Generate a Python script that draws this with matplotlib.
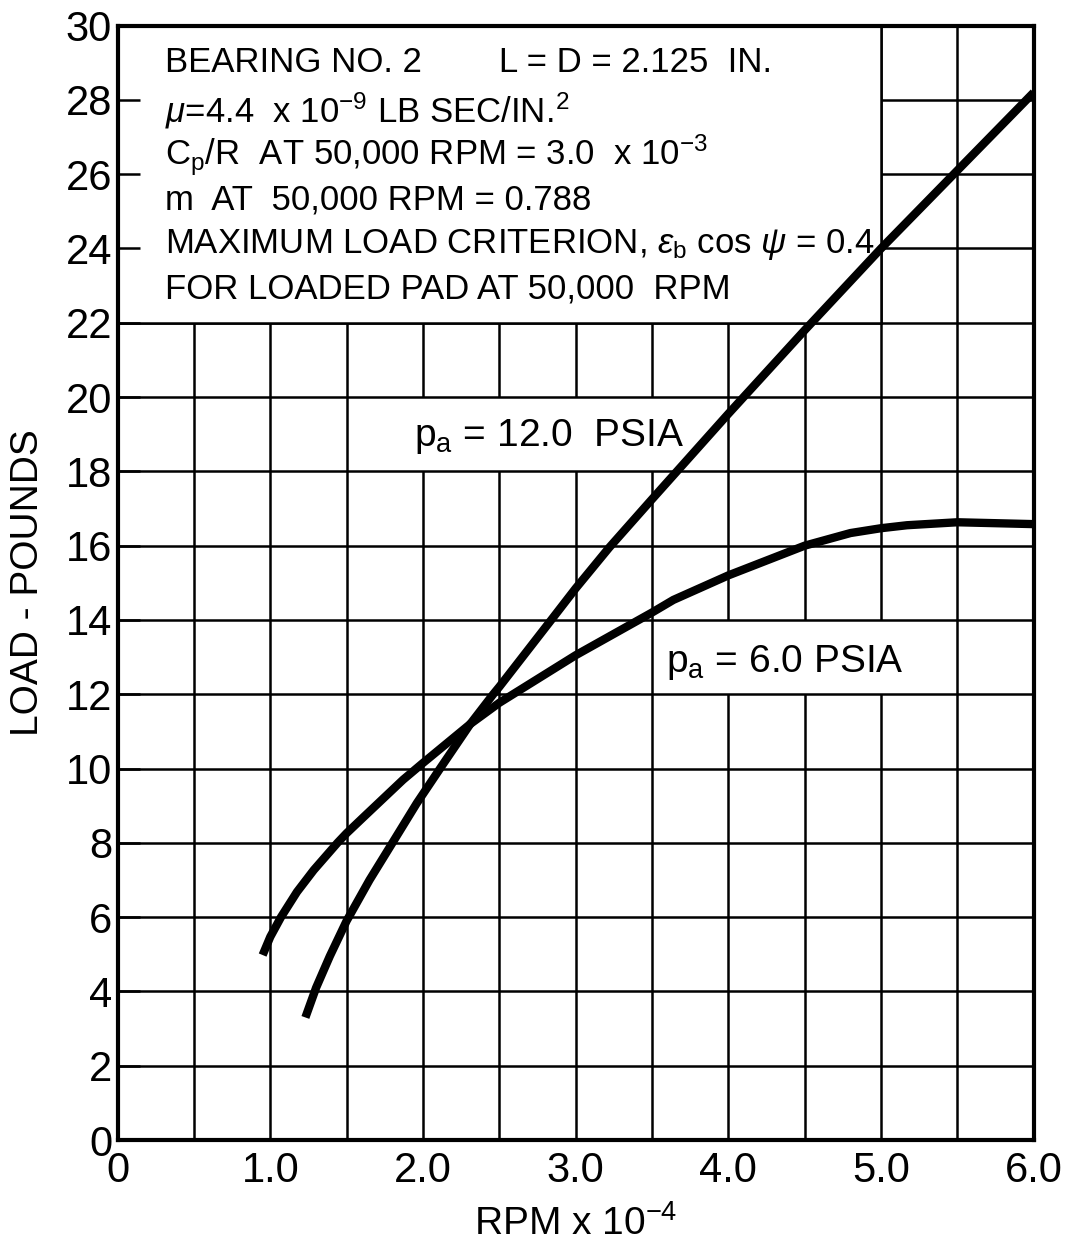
import matplotlib
matplotlib.use("Agg")
import matplotlib.pyplot as plt
from matplotlib.patches import Rectangle

plt.rcParams['font.family'] = ['Liberation Sans', 'DejaVu Sans']
plt.rcParams['mathtext.fontset'] = 'custom'
plt.rcParams['mathtext.rm'] = 'Liberation Sans'
plt.rcParams['mathtext.it'] = 'Liberation Sans:italic'

# curves (RPM x 1e-4, load in pounds)
rpm_12 = [1.23, 1.30, 1.39, 1.50, 1.65, 1.80, 1.96, 2.12, 2.31, 2.46, 2.50, 2.84, 3.00,
          3.22, 3.50, 4.00, 4.50, 5.00, 5.50, 6.00]
load_12 = [3.3, 4.1, 4.95, 5.9, 7.0, 8.0, 9.07, 10.05, 11.2, 12.0, 12.2, 14.0, 14.85,
           15.95, 17.25, 19.55, 21.8, 24.0, 26.1, 28.2]

rpm_6 = [0.95, 1.00, 1.07, 1.175, 1.285, 1.44, 1.50, 1.61, 1.87, 2.00, 2.31, 2.50, 3.00,
         3.50, 3.64, 4.00, 4.50, 4.80, 5.00, 5.17, 5.50, 6.00]
load_6 = [4.98, 5.47, 6.0, 6.68, 7.27, 8.0, 8.26, 8.69, 9.7, 10.15, 11.2, 11.77, 13.05,
          14.2, 14.54, 15.2, 16.0, 16.34, 16.47, 16.55, 16.63, 16.58]

x_ticks = [0, 1, 2, 3, 4, 5, 6]
x_labels = ['0', '1.0', '2.0', '3.0', '4.0', '5.0', '6.0']
y_ticks = list(range(0, 31, 2))

notes = [
    "BEARING NO. 2        L = D = 2.125  IN.",
    r"$\mu$=4.4  x 10$^{-9}$ LB SEC/IN.$^{2}$",
    r"C$_{\rm p}$/R  AT 50,000 RPM = 3.0  x 10$^{-3}$",
    "m  AT  50,000 RPM = 0.788",
    r"MAXIMUM LOAD CRITERION, $\epsilon_{\rm b}$ cos $\psi$ = 0.4",
    "FOR LOADED PAD AT 50,000  RPM",
]
note_y = [29.0, 27.7, 26.5, 25.3, 24.1, 22.9]

fig = plt.figure(figsize=(10.69, 12.48), dpi=100)
ax = fig.add_axes([0.110, 0.0865, 0.857, 0.893])

ax.set_xlim(0, 6)
ax.set_ylim(0, 30)

# grid every 0.5 in x, every 2 in y
for gx in [i * 0.5 for i in range(1, 12)]:
    ax.axvline(gx, color='black', lw=1.8, zorder=0.5)
for gy in y_ticks[1:-1]:
    ax.axhline(gy, color='black', lw=1.8, zorder=0.8)

# white cells behind the curve labels
ax.add_patch(Rectangle((1.52, 18), 2.46, 2, facecolor='white', edgecolor='none', zorder=0.7))
ax.add_patch(Rectangle((3.52, 12), 1.96, 2, facecolor='white', edgecolor='none', zorder=0.7))

# white note box covering the upper left grid
ax.add_patch(Rectangle((0, 22), 5, 8, facecolor='white', edgecolor='none', zorder=1))
ax.plot([0, 5], [22, 22], color='black', lw=1.8, zorder=1.5)
ax.plot([5, 5], [22, 30], color='black', lw=1.8, zorder=1.5)

ax.plot(rpm_12, load_12, color='black', lw=6, solid_capstyle='butt', solid_joinstyle='round', zorder=3)
ax.plot(rpm_6, load_6, color='black', lw=6, solid_capstyle='butt', solid_joinstyle='round', zorder=3)

for txt, yy in zip(notes, note_y):
    ax.text(0.31, yy, txt, fontsize=25, va='center', ha='left', zorder=2)

ax.text(1.94, 18.95, r"p$_{\rm a}$ = 12.0  PSIA", fontsize=28, va='center', ha='left', zorder=2)
ax.text(3.59, 12.85, r"p$_{\rm a}$ = 6.0 PSIA", fontsize=28, va='center', ha='left', zorder=2)

ax.set_xticks(x_ticks)
ax.set_xticklabels(x_labels)
ax.set_yticks(y_ticks)
ax.tick_params(axis='x', length=0, labelsize=30, pad=8)
ax.tick_params(axis='y', direction='in', length=16, width=1.8, labelsize=30, pad=4)

for s in ax.spines.values():
    s.set_linewidth(3)
    s.set_zorder(4)

ax.set_xlabel(r"RPM x 10$^{-4}$", fontsize=28, labelpad=10)
ax.set_ylabel("LOAD - POUNDS", fontsize=28, labelpad=14)

fig.savefig("out.png", dpi=100, facecolor='white')
